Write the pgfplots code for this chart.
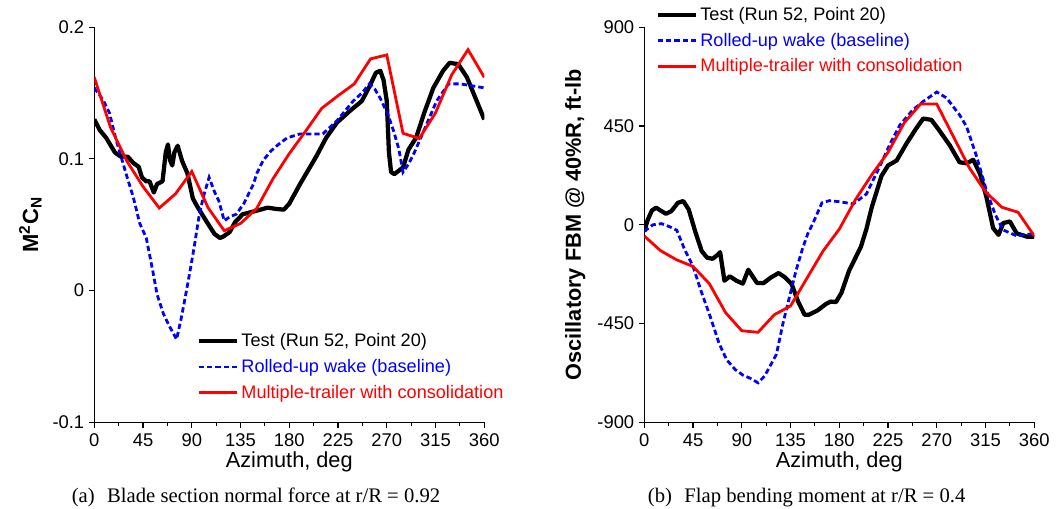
\documentclass[border=0pt]{standalone}
\usepackage{fontspec}
\setmainfont{Liberation Sans}
\newfontfamily\capfont{Liberation Serif}
\usepackage{pgfplots}
\pgfplotsset{compat=1.18}

\pgfplotsset{
 myaxis/.style={
  scale only axis, width=292.5pt, height=296.25pt,
  xmin=0, xmax=360, xtick={0,45,...,360}, minor x tick num=1,
  axis lines=left, axis line style={-, line width=0.9pt},
  tick align=outside, major tick length=4pt, minor tick length=2.5pt,
  every tick/.style={line width=0.8pt, black},
  tick label style={font=\fontsize{13.8}{16}\selectfont},
  xticklabel style={yshift=-1pt},
  /pgf/number format/assume math mode=true,
  xlabel={Azimuth, deg},
  xlabel style={at={(axis description cs:0.5,-0.101)}, anchor=center, font=\fontsize{16.3}{19}\selectfont},
  legend cell align=left,
  legend image code/.code={\draw[##1] (0pt,0pt) -- (29pt,0pt);},
  legend style={draw=none, fill=none, inner sep=0pt, row sep=0pt,
     font=\fontsize{13.6}{16}\selectfont,
     nodes={inner sep=1.5pt, text height=12.3pt, text depth=3.9pt}},
 },
 testline/.style={black, line width=3.2pt, line join=round},
 rollline/.style={blue, line width=2.1pt, dash pattern=on 4pt off 2.3pt},
 multline/.style={red, line width=2.1pt},
}

\begin{document}
\begin{tikzpicture}[x=1pt,y=1pt]
\useasboundingbox (0,0) rectangle (795,381);

\begin{axis}[myaxis, at={(70.7pt,64.3pt)}, anchor=south west,
  ymin=-0.1, ymax=0.2, ytick={-0.1,0,0.1,0.2}, yticklabels={-0.1,0,0.1,0.2},
  ylabel={\textbf{M\textsuperscript{2}C\textsubscript{N}}},
  ylabel style={at={(axis description cs:-0.164,0.5)}, anchor=center, font=\fontsize{16.5}{19}\selectfont},
  legend style={at={(axis description cs:0.2615,0.238)}, anchor=north west},
]
\addplot[testline] table {
0 0.130
5 0.122
11 0.116
19 0.105
24 0.102
31 0.1016
36 0.097
41 0.094
44 0.086
48 0.083
51 0.083
55 0.0745
58 0.081
63 0.083
66 0.105
68 0.111
70 0.099
72 0.095
74 0.105
77 0.110
81 0.0986
86 0.089
91 0.070
95 0.064
104 0.052
111 0.043
116 0.040
119 0.041
125 0.0445
130 0.052
137 0.058
150 0.0607
160 0.063
168 0.062
175 0.0615
180 0.066
190 0.081
205 0.102
214 0.116
224 0.1276
236 0.1365
247 0.144
254 0.155
260 0.1655
264 0.167
267 0.160
270 0.144
272 0.105
274 0.090
277 0.0885
285 0.0935
290 0.107
297 0.116
305 0.136
313 0.154
322 0.167
328 0.173
336 0.172
344 0.162
353 0.144
360 0.130
};
\addlegendentry{Test (Run 52, Point 20)}
\addplot[rollline] table {
0 0.154
8 0.145
14 0.135
20 0.115
25 0.101
30 0.087
36 0.071
42 0.051
48 0.040
54 0.015
58 -0.003
64 -0.018
70 -0.028
76 -0.037
80 -0.022
84 -0.005
88 0.013
92 0.032
97 0.058
101 0.072
106 0.086
111 0.075
115 0.068
120 0.053
125 0.056
131 0.058
138 0.066
147 0.081
150 0.089
156 0.099
163 0.106
170 0.111
178 0.116
190 0.119
211 0.119
224 0.129
239 0.144
247 0.150
254 0.157
259 0.153
264 0.146
271 0.134
276 0.122
281 0.108
285 0.090
290 0.096
295 0.104
304 0.121
316 0.144
327 0.157
338 0.157
360 0.154
};
\addlegendentry{\textcolor{blue}{Rolled-up wake (baseline)}}
\addplot[multline] table {
0 0.162
15 0.124
30 0.0985
45 0.079
60 0.0627
75 0.0735
90 0.0905
105 0.063
120 0.0455
135 0.051
150 0.0625
165 0.085
180 0.104
195 0.121
210 0.1385
225 0.148
240 0.157
255 0.176
270 0.179
285 0.1195
300 0.1155
315 0.135
330 0.164
345 0.183
360 0.162
};
\addlegendentry{\textcolor{red}{Multiple-trailer with consolidation}}
\end{axis}

\begin{axis}[myaxis, at={(483.2pt,64.3pt)}, anchor=south west,
  ymin=-900, ymax=900, ytick={-900,-450,0,450,900}, yticklabels={-900,-450,0,450,900},
  ylabel={\textbf{Oscillatory FBM @ 40\%R, ft-lb}},
  ylabel style={at={(axis description cs:-0.177,0.5)}, anchor=center, font=\fontsize{16.3}{19}\selectfont},
  legend style={at={(axis description cs:0.028,1.064)}, anchor=north west},
]
\addplot[testline] table {
0 -30
3 20
7 65
11 78
15 65
20 50
25 62
31 100
36 108
41 70
47 -30
53 -120
58 -150
63 -155
67 -140
70 -125
74 -255
79 -235
85 -255
91 -268
96 -205
100 -235
104 -265
110 -266
117 -240
124 -220
130 -240
136 -270
142 -350
148 -410
152 -410
160 -390
168 -360
172 -350
177 -352
182 -310
189 -210
195 -150
200 -100
205 -20
210 80
219 223
225 270
233 293
242 370
251 439
257.5 484
265 478
271 439
282 362
291 285
297.5 280
303.7 296
310 231
316 123
322 -15
327 -46
331.4 8
337.5 15
343.7 -39
353 -54
360 -55
};
\addlegendentry{Test (Run 52, Point 20)}
\addplot[rollline] table {
0 -30
8 0
16 5
24 -10
30 -25
37 -110
45 -190
53 -310
61 -420
69 -540
76 -615
84 -660
91 -685
98 -700
105 -720
111 -690
116 -645
122 -590
128 -450
134 -330
140 -210
146 -110
151 -40
156 10
164 100
171 110
180 105
193 95
205 140
217 262
227 370
236 455
248 524
257.5 562
270 605
279 578
291 501
297.5 447
307 308
316 154
324 46
331 -23
344 -51
360 -39
};
\addlegendentry{\textcolor{blue}{Rolled-up wake (baseline)}}
\addplot[multline] table {
0 -51
15 -118
30 -160
45 -190
60 -268
75 -400
90 -483
105 -490
120 -410
135 -370
150 -245
165 -120
180 -20
195 115
210 228
225 330
240 465
255 550
270 550
285 405
300 260
315 150
330 80
345 57
360 -51
};
\addlegendentry{\textcolor{red}{Multiple-trailer with consolidation}}
\end{axis}

\node[font=\capfont\fontsize{15.5}{18}\selectfont, anchor=center] at (192,8) {(a)\hspace{0.6em}Blade section normal force at r/R = 0.92};
\node[font=\capfont\fontsize{15.5}{18}\selectfont, anchor=center] at (605,8) {(b)\hspace{0.6em}Flap bending moment at r/R = 0.4};
\end{tikzpicture}
\end{document}
